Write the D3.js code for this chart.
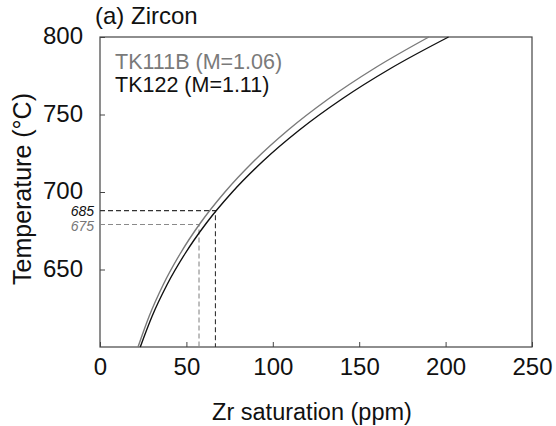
<!DOCTYPE html>
<html>
<head>
<meta charset="utf-8">
<script src="https://cdn.jsdelivr.net/npm/d3@7"></script>
<style>
  body { margin: 0; background: #fff; }
  svg text { font-family: "Liberation Sans", Arial, Helvetica, sans-serif; }
</style>
</head>
<body>
<div id="chart"></div>
<script>
// values
const temps = [600, 620, 640, 660, 680, 700, 720, 740, 760, 780, 800];
const zrTK111B = [22.0, 28.5, 36.5, 46.3, 58.1, 72.3, 89.1, 108.9, 132.1, 159.1, 190.3];
const zrTK122 = [23.3, 30.2, 38.7, 49.1, 61.6, 76.6, 94.4, 115.4, 140.0, 168.6, 201.7];

const seriesNames = ["TK111B (M=1.06)", "TK122 (M=1.11)"];
const seriesColors = ["#7a7a7a", "#111"];

// dashed read-off guides (where they meet the curves)
const guideT = [679, 688];
const guideZr = [57.3, 66.8];
const guideLabels = ["675", "685"];

const xTicks = [0, 50, 100, 150, 200, 250];
const yTicks = [650, 700, 750, 800];

const W = 556, H = 426;
const margin = { top: 37, right: 24, bottom: 79, left: 100 };
const width = W - margin.left - margin.right,
      height = H - margin.top - margin.bottom;

const svg = d3.select("#chart").append("svg")
  .attr("width", W)
  .attr("height", H);

const g = svg.append("g")
  .attr("transform", `translate(${margin.left},${margin.top})`);

const x = d3.scaleLinear().domain([0, 250]).range([0, width]);
const y = d3.scaleLinear().domain([600, 800]).range([height, 0]);

// axes with inward ticks
const xAxis = g.append("g")
  .attr("transform", `translate(0,${height})`)
  .call(d3.axisBottom(x).tickValues(xTicks).tickSizeInner(-5).tickSizeOuter(0).tickPadding(11));

const yAxis = g.append("g")
  .call(d3.axisLeft(y).tickValues(yTicks).tickSizeInner(-5).tickSizeOuter(0).tickPadding(17));

[xAxis, yAxis].forEach(a => {
  a.select(".domain").remove();
  a.selectAll(".tick line").attr("stroke", "#444");
  a.selectAll(".tick text")
    .attr("fill", "#111")
    .style("font-size", "24px");
});
// 700 label sits a touch higher so the small 685 fits under it
yAxis.selectAll(".tick text").attr("dy", "0.28em");

// frame
g.append("rect")
  .attr("width", width)
  .attr("height", height)
  .attr("fill", "none")
  .attr("stroke", "#444")
  .attr("stroke-width", 1.2);

// guides
guideT.forEach((t, i) => {
  const col = i === 0 ? "#8a8a8a" : "#333";
  g.append("path")
    .attr("d", `M${x(0)},${y(t)}H${x(guideZr[i])}V${y(600)}`)
    .attr("fill", "none")
    .attr("stroke", col)
    .attr("stroke-width", 1.1)
    .attr("stroke-dasharray", "5,3");
  g.append("text")
    .attr("x", -6)
    .attr("y", y(t) + (i === 0 ? 1 : 0))
    .attr("dy", "0.36em")
    .attr("text-anchor", "end")
    .attr("font-style", "italic")
    .attr("fill", i === 0 ? "#777" : "#111")
    .style("font-size", "14px")
    .text(guideLabels[i]);
});

// curves
const line = d3.line()
  .x(d => x(d[0]))
  .y(d => y(d[1]))
  .curve(d3.curveMonotoneX);

[zrTK111B, zrTK122].forEach((zr, i) => {
  g.append("path")
    .datum(zr.map((v, j) => [v, temps[j]]))
    .attr("fill", "none")
    .attr("stroke", seriesColors[i])
    .attr("stroke-width", 1.4)
    .attr("d", line);
});

// legend
seriesNames.forEach((name, i) => {
  g.append("text")
    .attr("x", 15)
    .attr("y", 32 + i * 23)
    .attr("fill", seriesColors[i])
    .style("font-size", "21.5px")
    .text(name);
});

// titles
svg.append("text")
  .attr("x", 95)
  .attr("y", 24)
  .attr("fill", "#111")
  .style("font-size", "24px")
  .text("(a) Zircon");

svg.append("text")
  .attr("x", 312)
  .attr("y", 420)
  .attr("text-anchor", "middle")
  .attr("fill", "#111")
  .style("font-size", "23.5px")
  .text("Zr saturation (ppm)");

svg.append("text")
  .attr("transform", `translate(31,${margin.top + height / 2 - 3}) rotate(-90)`)
  .attr("text-anchor", "middle")
  .attr("fill", "#111")
  .style("font-size", "25px")
  .text("Temperature (°C)");
</script>
</body>
</html>
